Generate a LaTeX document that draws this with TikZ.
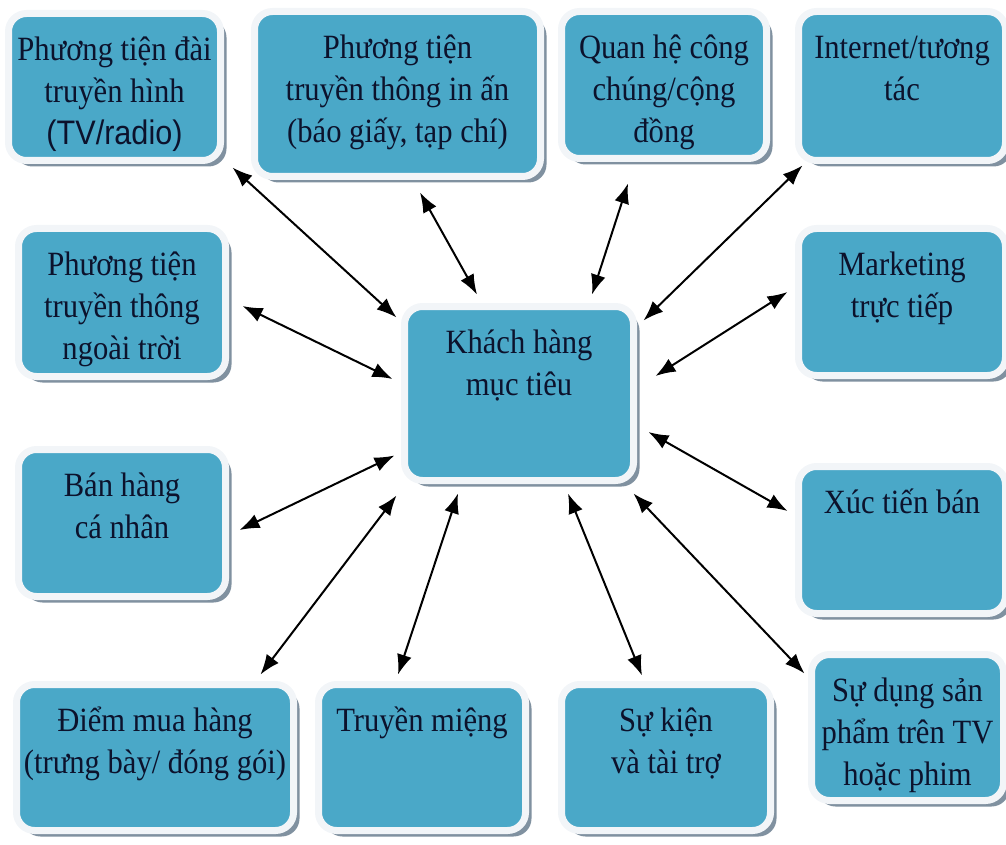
\documentclass[tikz,border=0pt]{standalone}
\usepackage{fontspec}
\setmainfont[FakeStretch=0.9]{Liberation Serif}
\newfontfamily\sansf[FakeStretch=0.9]{Liberation Sans}
\usepackage{xcolor}
\usepackage{tikz}
\usetikzlibrary{arrows.meta, calc, shadows}

\definecolor{boxblue}{RGB}{74,168,200}
\definecolor{rimwhite}{RGB}{242,245,248}
\definecolor{shadowgray}{RGB}{128,145,160}
\definecolor{inkblue}{RGB}{12,18,44}

\newcommand{\btext}[3]{\parbox[c][#2][t]{#1}{\centering\rule{0pt}{23.5pt}#3}}

\begin{document}
\begin{tikzpicture}[
    x=0.5pt, y=-0.5pt,
    mbox/.style={rectangle, rounded corners=9pt, inner sep=0pt,
      fill=boxblue, draw=rimwhite, line width=3.5pt, text=inkblue,
      font=\fontsize{17pt}{21pt}\selectfont,
      drop shadow={shadow xshift=3pt, shadow yshift=-3pt,
        fill=shadowgray, opacity=1}},
    link/.style={{Latex[length=10pt,width=7.5pt]}-{Latex[length=10pt,width=7.5pt]},
      line width=1pt, black}
  ]
  \useasboundingbox (0,0) rectangle (1006,845);

  \node[mbox] (cust) at (519,393.5) {\btext{114.5pt}{87pt}{Khách hàng\\mục tiêu}};

  \node[mbox] (tv) at (114.5,87) {\btext{106pt}{73.5pt}{Phương tiện đài\\truyền hình\\{\sansf (TV/radio)}}};
  \node[mbox] (print) at (397.5,94) {\btext{143pt}{82.5pt}{Phương tiện\\truyền thông in ấn\\(báo giấy, tạp chí)}};
  \node[mbox] (pr) at (664,85) {\btext{102.5pt}{73.5pt}{Quan hệ công\\chúng/cộng\\đồng}};
  \node[mbox] (net) at (902,86) {\btext{103.5pt}{74.5pt}{Internet/tương\\tác}};
  \node[mbox] (out) at (122,302.5) {\btext{103.5pt}{74pt}{Phương tiện\\truyền thông\\ngoài trời}};
  \node[mbox] (mkt) at (902,302) {\btext{103.5pt}{73.5pt}{Marketing\\trực tiếp}};
  \node[mbox] (sell) at (122,523) {\btext{103.5pt}{73.5pt}{Bán hàng\\cá nhân}};
  \node[mbox] (promo) at (902,540) {\btext{103.5pt}{73.5pt}{Xúc tiến bán}};
  \node[mbox] (pop) at (155,757.5) {\btext{138.5pt}{73pt}{Điểm mua hàng\\(trưng bày/ đóng gói)}};
  \node[mbox] (wom) at (422,757.5) {\btext{103.5pt}{73pt}{Truyền miệng}};
  \node[mbox] (evt) at (666,757.5) {\btext{104.5pt}{73pt}{Sự kiện\\và tài trợ}};
  \node[mbox] (place) at (907.5,727.5) {\btext{96pt}{73pt}{Sự dụng sản\\phẩm trên TV\\hoặc phim}};

  \draw[link] ([shift={(8.5,3.5)}]tv.south east) -- ([shift={(-4.5,14.5)}]cust.north west);
  \draw[link] ([shift={(22.5,12.5)}]print.south) -- ([shift={(-42,-8.5)}]cust.north);
  \draw[link] ([shift={(-36,21.5)}]pr.south) -- ([shift={(73,-8.5)}]cust.north);
  \draw[link] ([shift={(7.5,1.5)}]net.south west) -- ([shift={(6.5,17.5)}]cust.north east);
  \draw[link] ([shift={(13.5,3.5)}]out.east) -- ([shift={(-8.5,-14.5)}]cust.west);
  \draw[link] ([shift={(-7.5,-10)}]mkt.west) -- ([shift={(18.5,-17.5)}]cust.east);
  \draw[link] ([shift={(10.5,7)}]sell.east) -- ([shift={(-6.5,-28.5)}]cust.south west);
  \draw[link] ([shift={(-7.5,-29)}]promo.west) -- ([shift={(11.5,38.5)}]cust.east);
  \draw[link] ([shift={(-36.5,-6.5)}]pop.north east) -- ([shift={(-4.5,11.5)}]cust.south west);
  \draw[link] ([shift={(-24,-6.5)}]wom.north) -- ([shift={(-61,9.5)}]cust.south);
  \draw[link] ([shift={(-24,-5.5)}]evt.north) -- ([shift={(49,9.5)}]cust.south);
  \draw[link] ([shift={(-3.5,22.5)}]place.north west) -- ([shift={(-3.5,9.5)}]cust.south east);
\end{tikzpicture}
\end{document}
